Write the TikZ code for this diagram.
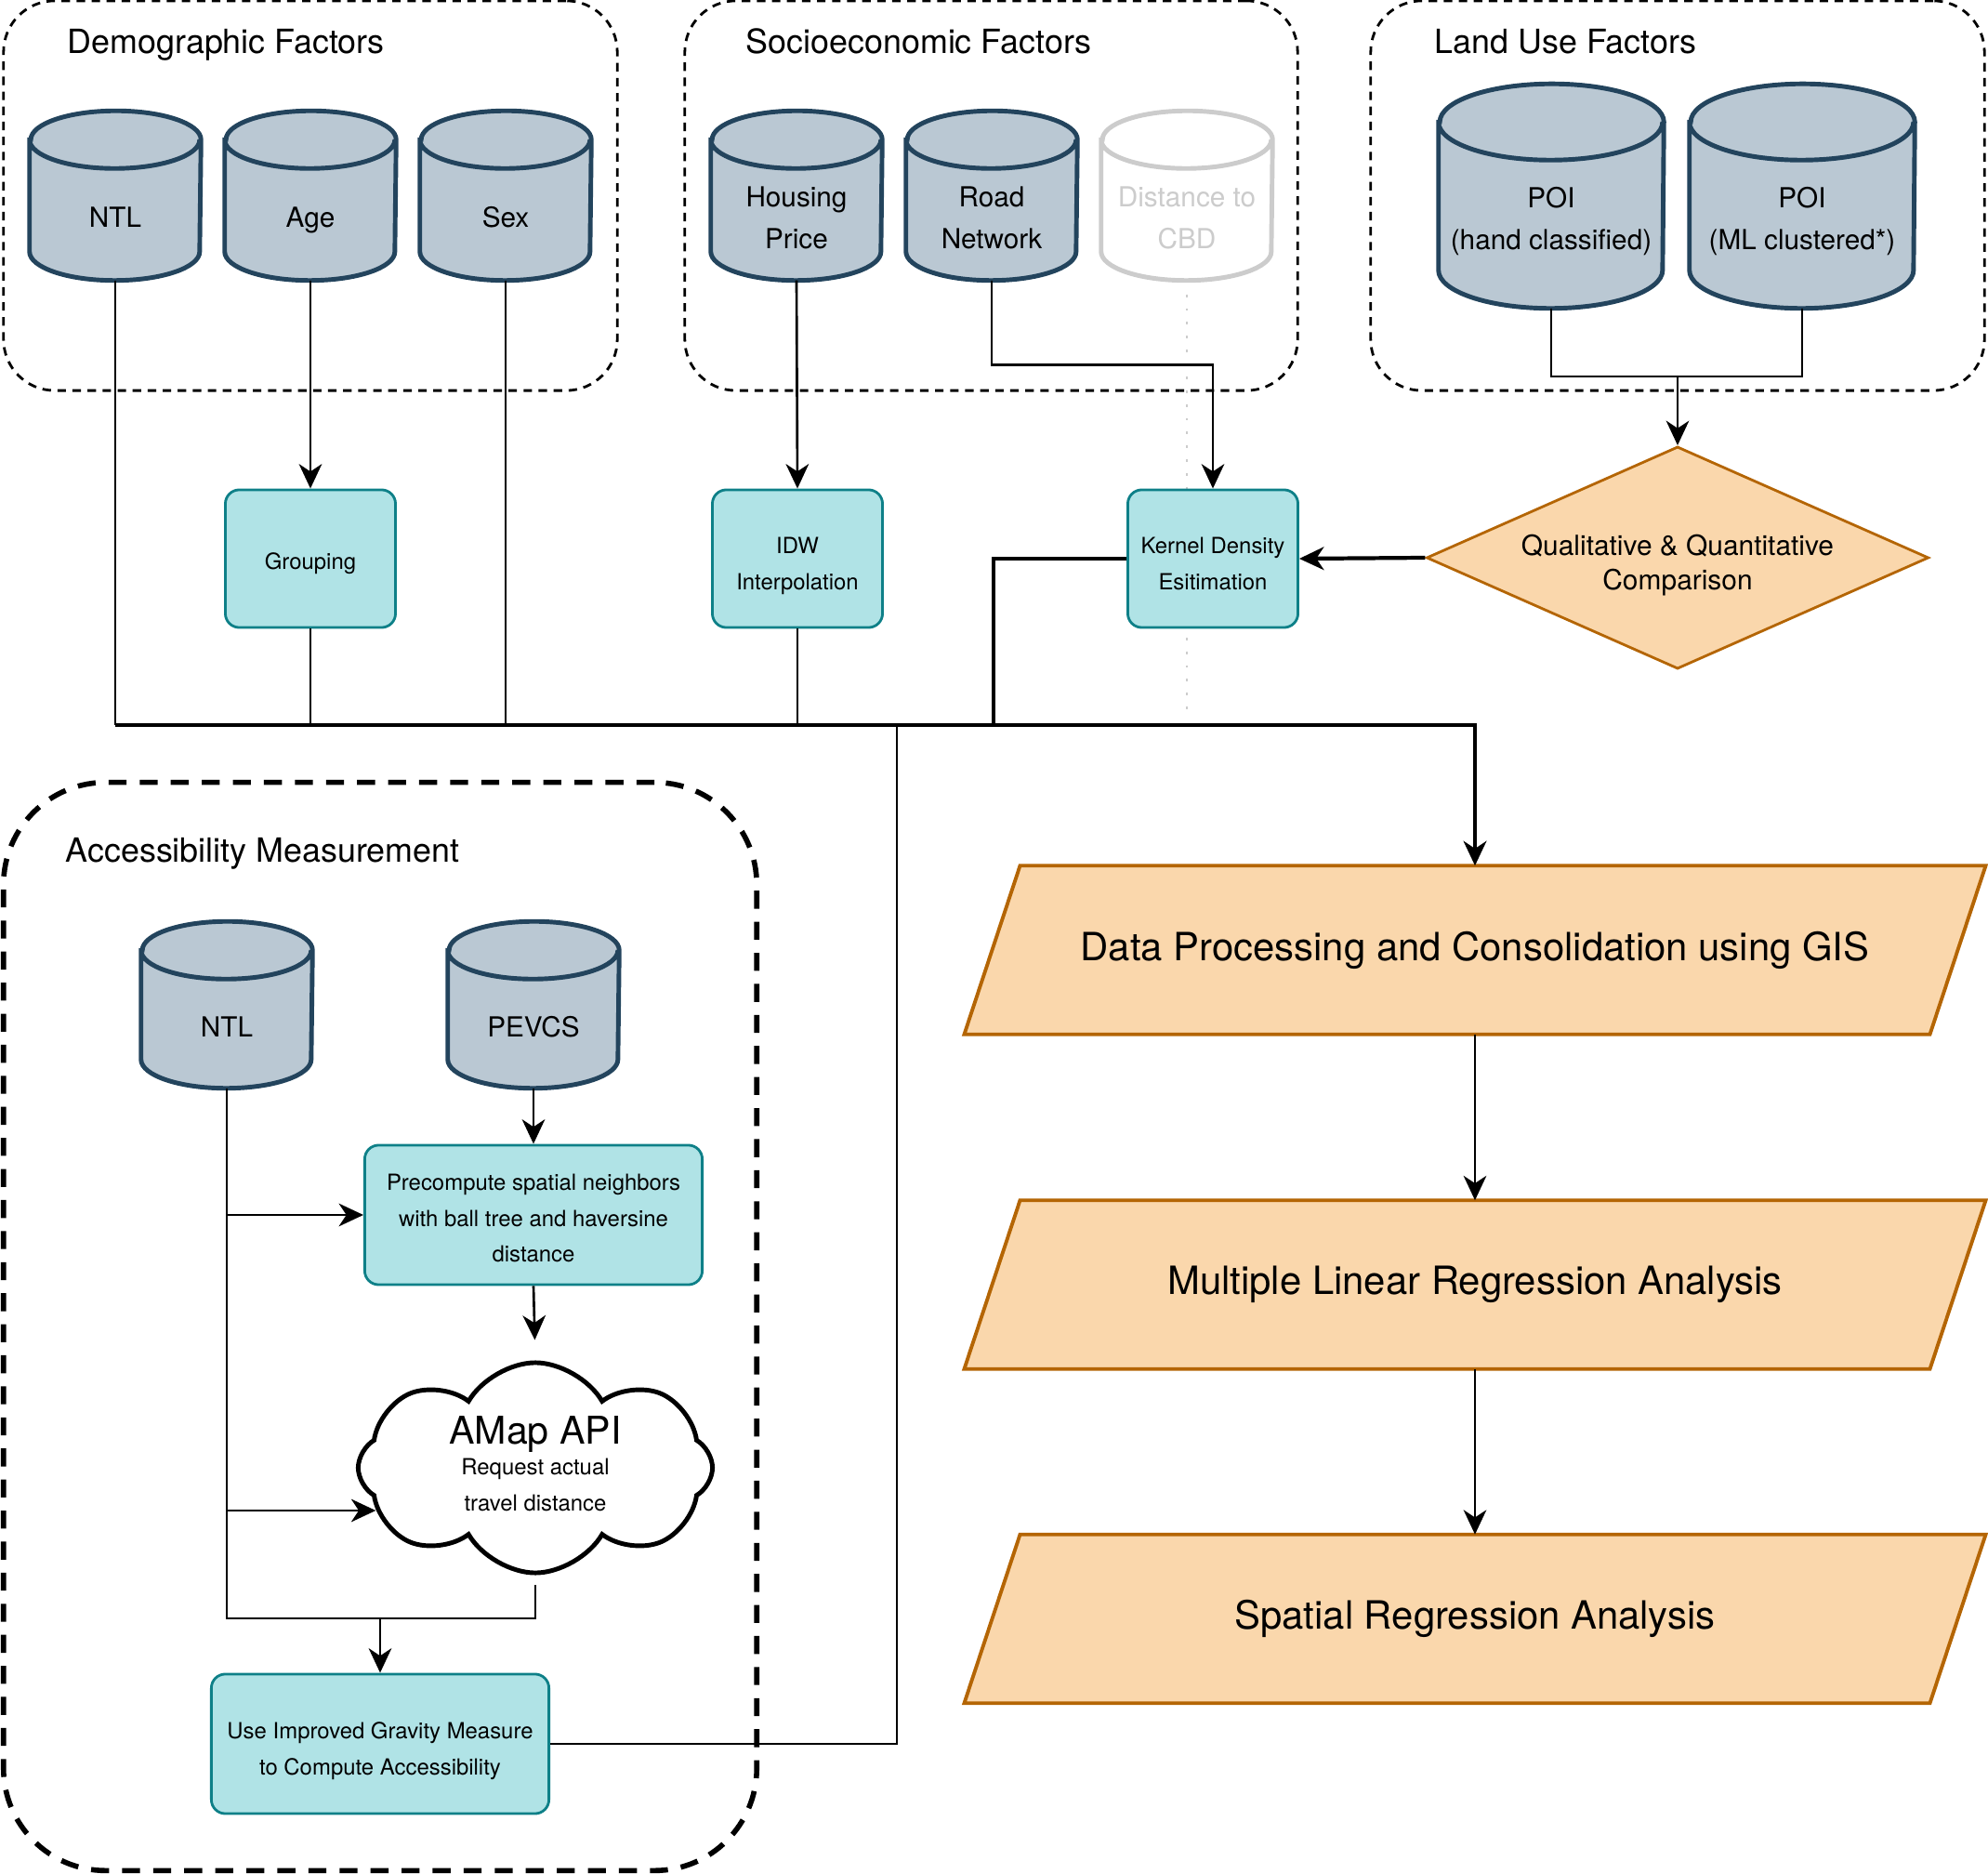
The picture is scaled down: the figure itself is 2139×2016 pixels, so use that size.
\documentclass[tikz,border=0pt]{standalone}
\usepackage{fontspec}
\setmainfont{TeX Gyre Heros}
\usetikzlibrary{arrows.meta,shapes.geometric,shapes.symbols,backgrounds}

\definecolor{storefill}{HTML}{BAC8D3}
\definecolor{storeline}{HTML}{23445D}
\definecolor{procfill}{HTML}{B0E3E6}
\definecolor{procline}{HTML}{0E8088}
\definecolor{stagefill}{HTML}{FAD7AC}
\definecolor{stageline}{HTML}{B46504}
\definecolor{cbdgray}{HTML}{CCCCCC}

\newcommand{\titlesize}{\fontsize{10.2pt}{12pt}\selectfont}
\newcommand{\dbsize}{\fontsize{8.45pt}{12.8pt}\selectfont}
\newcommand{\procsize}{\fontsize{6.8pt}{11pt}\selectfont}
\newcommand{\cmpsize}{\fontsize{8.5pt}{10.5pt}\selectfont}
\newcommand{\stagesize}{\fontsize{11.9pt}{14pt}\selectfont}
\newcommand{\apisize}{\fontsize{11.7pt}{14pt}\selectfont}

\tikzset{
  store/.style={inner sep=0pt, align=center, font=\dbsize, text depth=0pt},
  storeshell/.style={draw=storeline, fill=storefill, line width=1.4pt},
  ghost/.style={draw=cbdgray, fill=white, text=cbdgray},
  group/.style={draw, dash pattern=on 2.6pt off 2pt, line width=0.8pt, rounded corners=0.55cm, inner sep=0pt},
  accgroup/.style={draw, dash pattern=on 5.5pt off 4pt, line width=1.6pt, rounded corners=1.1cm, inner sep=0pt},
  title/.style={anchor=base west, inner sep=0pt, font=\titlesize},
  proc/.style={draw=procline, fill=procfill, line width=0.8pt, rounded corners=0.15cm, minimum width=1.83cm, minimum height=1.48cm, inner sep=0pt, align=center, font=\procsize, text height=#1, text depth=0pt},
  proc/.default=6.7pt,
  wideproc/.style={proc=#1, minimum width=3.63cm, minimum height=1.5cm},
  wideproc/.default=18.8pt,
  cmp/.style={diamond, aspect=2.26, draw=stageline, fill=stagefill, line width=0.8pt, minimum width=5.4cm, minimum height=2.39cm, inner sep=0pt, align=center, font=\cmpsize, text height=19.6pt, text depth=0pt},
  stage/.style={minimum width=10.37cm, minimum height=1.8cm, inner sep=0pt, font=\stagesize},
  stageshell/.style={draw=stageline, fill=stagefill, line width=1.1pt},
  api/.style={cloud, cloud puffs=8, cloud puff arc=120, aspect=1.7, draw, line width=1.4pt, fill=white, minimum width=3.81cm, minimum height=2.26cm, inner sep=0pt, align=center, font=\procsize, text depth=2.5pt},
  link/.style={draw, line width=0.75pt},
  buslink/.style={draw, line width=1.2pt},
  cbdlink/.style={draw=cbdgray, line width=0.8pt, dash pattern=on 0.8pt off 3.4pt},
  >={Stealth[length=7.5pt, width=7pt, inset=2.3pt]}
}

% cylinder: [style] name, position, width, body height, cap radius, label
\newcommand{\datastore}[7][]{%
  \node[store, minimum width=#4, minimum height=#5, #1, draw=none, fill=none] (#2) at (#3) {#7};
  \begin{pgfonlayer}{background}
    \path[storeshell, #1] ([yshift=#6/2]#2.north west) -- ([yshift=#6]#2.south west)
      arc[start angle=180, end angle=360, x radius=#4/2, y radius=#6]
      -- ([yshift=#6/2]#2.north east)
      arc[start angle=0, end angle=180, x radius=#4/2, y radius=#6] -- cycle
      ([yshift=#6/2]#2.north west) arc[start angle=180, end angle=360, x radius=#4/2, y radius=#6];
  \end{pgfonlayer}}

% parallelogram: name, position, label
\newcommand{\stagebox}[3]{%
  \node[stage] (#1) at (#2) {#3};
  \begin{pgfonlayer}{background}
    \path[stageshell] ([xshift=-0.3cm]#1.south west) -- ([xshift=0.3cm]#1.north west)
      -- ([xshift=0.3cm]#1.north east) -- ([xshift=-0.3cm]#1.south east) -- cycle;
  \end{pgfonlayer}}

\begin{document}
\begin{tikzpicture}[x=0.01cm, y=-0.01cm]
  \useasboundingbox (0,0) rectangle (2139,2016);

  % factor groups
  \node[group, minimum width=6.6cm, minimum height=4.19cm] (demo) at (334,210.5) {};
  \node[group, minimum width=6.59cm, minimum height=4.19cm] (socio) at (1066.5,210.5) {};
  \node[group, minimum width=6.6cm, minimum height=4.19cm] (land) at (1805,210.5) {};
  \node[title] (demotitle) at (72,58) {Demographic Factors};
  \node[title] (sociotitle) at (802,58) {Socioeconomic Factors};
  \node[title] (landtitle) at (1543,58) {Land Use Factors};

  \datastore{ntl}{124,233.75}{1.83cm}{1.345cm}{0.31cm}{NTL}
  \datastore{age}{334,233.75}{1.83cm}{1.345cm}{0.31cm}{Age}
  \datastore{sex}{544,233.75}{1.83cm}{1.345cm}{0.31cm}{Sex}
  \datastore{housing}{857,233.75}{1.83cm}{1.345cm}{0.31cm}{Housing\\Price}
  \datastore{road}{1067,233.75}{1.83cm}{1.345cm}{0.31cm}{Road\\Network}
  \datastore[ghost]{cbd}{1277,233.75}{1.83cm}{1.345cm}{0.31cm}{Distance to\\CBD}
  \datastore[text depth=4.1pt]{poih}{1669,241.75}{2.41cm}{1.785cm}{0.41cm}{POI\\(hand classified)}
  \datastore[text depth=4.1pt]{poim}{1939,241.75}{2.41cm}{1.785cm}{0.41cm}{POI\\(ML clustered*)}

  \begin{pgfonlayer}{background}
    \draw[cbdlink] ([yshift=-0.15cm]cbd.south) -- ++(0,455);
  \end{pgfonlayer}

  % processing steps
  \node[proc] (grouping) at (334,601) {Grouping};
  \node[proc=18.8pt] (idw) at (858,601) {IDW\\Interpolation};
  \node[proc=18.8pt] (kde) at (1305,601) {Kernel Density\\Esitimation};
  \node[cmp] (cmp) at (1805,600) {Qualitative \& Quantitative\\Comparison};

  \stagebox{dp}{1587,1022}{Data Processing and Consolidation using GIS}
  \stagebox{mlr}{1587,1382}{Multiple Linear Regression Analysis}
  \stagebox{sra}{1587,1741.5}{Spatial Regression Analysis}

  % accessibility measurement
  \node[accgroup, minimum width=8.1cm, minimum height=11.7cm] (acc) at (409,1427) {};
  \node[title] (acctitle) at (70,928) {Accessibility Measurement};
  \datastore{ntltwo}{244,1104.25}{1.83cm}{1.315cm}{0.31cm}{NTL}
  \datastore{pevcs}{574,1104.25}{1.83cm}{1.315cm}{0.31cm}{PEVCS}
  \node[wideproc=28.9pt] (neigh) at (574,1307) {Precompute spatial neighbors\\with ball tree and haversine\\distance};
  \node[api] (amap) at (576,1579) {{\apisize AMap API}\\[-1.6pt]Request actual\\travel distance};
  \node[wideproc] (gravity) at (409,1876) {Use Improved Gravity Measure\\to Compute Accessibility};

  % connectors
  \coordinate (landjoin) at (1805,405);
  \coordinate (busW) at (124,780);
  \coordinate (kdedrop) at (1069,780);
  \coordinate (gravrise) at (965,780);
  \coordinate (accjoin) at (244,1741);

  \draw[link,->] (age.south) -- (grouping.north);
  \draw[link,->] (housing.south) -- (idw.north);
  \draw[link,->] (road.south) -- ++(0,91) -| (kde.north);
  \draw[link] (poih.south) |- (landjoin) -| (poim.south);
  \draw[link,->] (landjoin) -- (cmp.north);
  \draw[buslink,->] (cmp.west) -- (kde.east);

  \draw[link] (ntl.south) -- (busW);
  \draw[link] (grouping.south) -- (grouping.south |- busW);
  \draw[link] (sex.south) -- (sex.south |- busW);
  \draw[link] (idw.south) -- (idw.south |- busW);
  \draw[buslink] (kde.west) -| (kdedrop);
  \draw[link] (gravity.east) -| (gravrise);
  \draw[buslink,->] (busW) -- (busW -| dp.north) -- (dp.north);

  \draw[link,->] (dp.south) -- (mlr.north);
  \draw[link,->] (mlr.south) -- (sra.north);

  \draw[link,->] (pevcs.south) -- (neigh.north);
  \draw[link,->, shorten >=0.22cm] (neigh.south) -- (amap.north);
  \draw[link] (ntltwo.south) -- (accjoin) -| ([yshift=-0.1cm]amap.south);
  \draw[link,->] (ntltwo.south |- neigh.west) -- (neigh.west);
  \draw[link,->] (ntltwo.south |- amap.195) -- (amap.195);
  \draw[link,->] (accjoin -| gravity.north) -- (gravity.north);
\end{tikzpicture}
\end{document}
